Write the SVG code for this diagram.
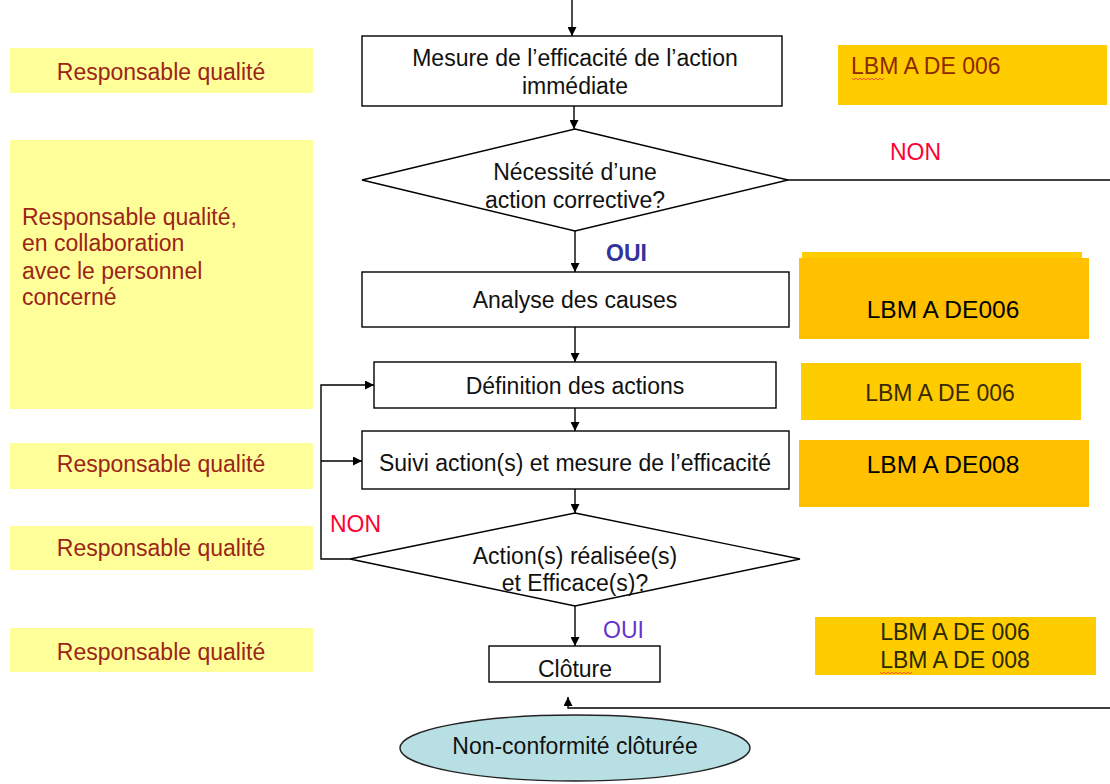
<svg xmlns="http://www.w3.org/2000/svg" width="1110" height="784" viewBox="0 0 1110 784">
<style>
text{font-family:"Liberation Sans",Arial,sans-serif;font-size:23px}
.box{fill:#fff;stroke:#000;stroke-width:1.4}
.lbl{fill:#111;text-anchor:middle}
.role{fill:#ffff99}
.roletx{fill:#9c2418}
.ref1{fill:#ffcc00}
.ref2{fill:#ffc000}
.big{font-size:24.5px}
.ln{fill:none;stroke:#000;stroke-width:1.4}
.non{fill:#ff0033}
.squig{fill:none;stroke:#ff3333;stroke-width:0.8}
</style>
<defs>
<marker id="ah" viewBox="0 0 10 10" refX="10" refY="5" markerWidth="9" markerHeight="9" markerUnits="userSpaceOnUse" orient="auto">
<path d="M0,0 L10,5 L0,10 z" fill="#000"/>
</marker>
</defs>

<g id="roles">
<g id="role1"><rect class="role" x="10" y="48" width="303" height="45"/><text class="roletx" x="161" y="80" text-anchor="middle">Responsable qualité</text></g>
<g id="role2"><rect class="role" x="10" y="140" width="303" height="269"/>
<text class="roletx" x="22" y="225">Responsable qualité,</text>
<text class="roletx" x="22" y="251">en collaboration</text>
<text class="roletx" x="22" y="279">avec le personnel</text>
<text class="roletx" x="22" y="305">concerné</text></g>
<g id="role3"><rect class="role" x="10" y="443" width="303" height="46"/><text class="roletx" x="161" y="472" text-anchor="middle">Responsable qualité</text></g>
<g id="role4"><rect class="role" x="10" y="526" width="303" height="44"/><text class="roletx" x="161" y="556" text-anchor="middle">Responsable qualité</text></g>
<g id="role5"><rect class="role" x="10" y="628" width="303" height="44"/><text class="roletx" x="161" y="660" text-anchor="middle">Responsable qualité</text></g>
</g>

<g id="refs">
<g id="ref1"><rect class="ref1" x="838" y="45" width="269" height="60"/><text x="851" y="74" fill="#8b2a00">LBM A DE 006</text>
<path class="squig" d="M852,78 l2,2 l2,-2 l2,2 l2,-2 l2,2 l2,-2 l2,2 l2,-2 l2,2 l2,-2 l2,2 l2,-2 l2,2 l2,-2 l2,2 l2,-2"/></g>
<g id="ref2"><rect class="ref1" x="802" y="252" width="280" height="60"/><rect class="ref2" x="799" y="258" width="290" height="81"/><text class="big" x="943" y="318" fill="#000" text-anchor="middle">LBM A DE006</text></g>
<g id="ref3"><rect class="ref1" x="801" y="363" width="280" height="57"/><text x="940" y="401" fill="#3a2a00" text-anchor="middle">LBM A DE 006</text></g>
<g id="ref4"><rect class="ref2" x="799" y="440" width="290" height="67"/><text class="big" x="943" y="473" fill="#000" text-anchor="middle">LBM A DE008</text></g>
<g id="ref5"><rect class="ref1" x="815" y="617" width="281" height="58"/><text x="955" y="640" fill="#2a2a00" text-anchor="middle">LBM A DE 006</text><text x="955" y="668" fill="#2a2a00" text-anchor="middle">LBM A DE 008</text>
<path class="squig" d="M880,672 l2,2 l2,-2 l2,2 l2,-2 l2,2 l2,-2 l2,2 l2,-2 l2,2 l2,-2 l2,2 l2,-2 l2,2 l2,-2 l2,2 l2,-2"/></g>
</g>

<g id="connectors">
<line class="ln" x1="572" y1="0" x2="572" y2="36" marker-end="url(#ah)"/>
<line class="ln" x1="574" y1="106" x2="574" y2="129" marker-end="url(#ah)"/>
<line class="ln" x1="788" y1="180" x2="1110" y2="180"/>
<line class="ln" x1="575" y1="231" x2="575" y2="272" marker-end="url(#ah)"/>
<line class="ln" x1="575" y1="327" x2="575" y2="362" marker-end="url(#ah)"/>
<line class="ln" x1="575" y1="408" x2="575" y2="431" marker-end="url(#ah)"/>
<line class="ln" x1="575" y1="489" x2="575" y2="513" marker-end="url(#ah)"/>
<polyline class="ln" points="350,559 321,559 321,385 374,385" marker-end="url(#ah)"/>
<line class="ln" x1="321" y1="461" x2="362" y2="461" marker-end="url(#ah)"/>
<line class="ln" x1="575" y1="606" x2="575" y2="646" marker-end="url(#ah)"/>
<polyline class="ln" points="1110,708 568,708 568,697" marker-end="url(#ah)"/>
<text class="non" x="890" y="160">NON</text>
<text x="606" y="261" fill="#333399" font-weight="bold">OUI</text>
<text class="non" x="330" y="532">NON</text>
<text x="603" y="638" fill="#6633cc">OUI</text>
</g>

<g id="n1"><rect class="box" x="362" y="36" width="420" height="70"/><text class="lbl" x="575" y="66">Mesure de l’efficacité de l’action</text><text class="lbl" x="575" y="94">immédiate</text></g>
<g id="d1"><polygon class="box" points="575,129 788,180 575,231 362,180"/><text class="lbl" x="575" y="180">Nécessité d’une</text><text class="lbl" x="575" y="208">action corrective?</text></g>
<g id="n2"><rect class="box" x="362" y="272" width="427" height="55"/><text class="lbl" x="575" y="308">Analyse des causes</text></g>
<g id="n3"><rect class="box" x="374" y="362" width="402" height="46"/><text class="lbl" x="575" y="394">Définition des actions</text></g>
<g id="n4"><rect class="box" x="362" y="431" width="427" height="58"/><text class="lbl" x="575" y="471">Suivi action(s) et mesure de l’efficacité</text></g>
<g id="d2"><polygon class="box" points="575,513 800,559 575,606 350,559"/><text class="lbl" x="575" y="564">Action(s) réalisée(s)</text><text class="lbl" x="575" y="591">et Efficace(s)?</text></g>
<g id="n5"><rect class="box" x="489" y="646" width="171" height="36"/><text class="lbl" x="575" y="677">Clôture</text></g>
<g id="end"><ellipse cx="575" cy="748" rx="175" ry="33" fill="#b8e0e4" stroke="#222" stroke-width="1.4"/><text class="lbl" x="575" y="754">Non-conformité clôturée</text></g>
</svg>
